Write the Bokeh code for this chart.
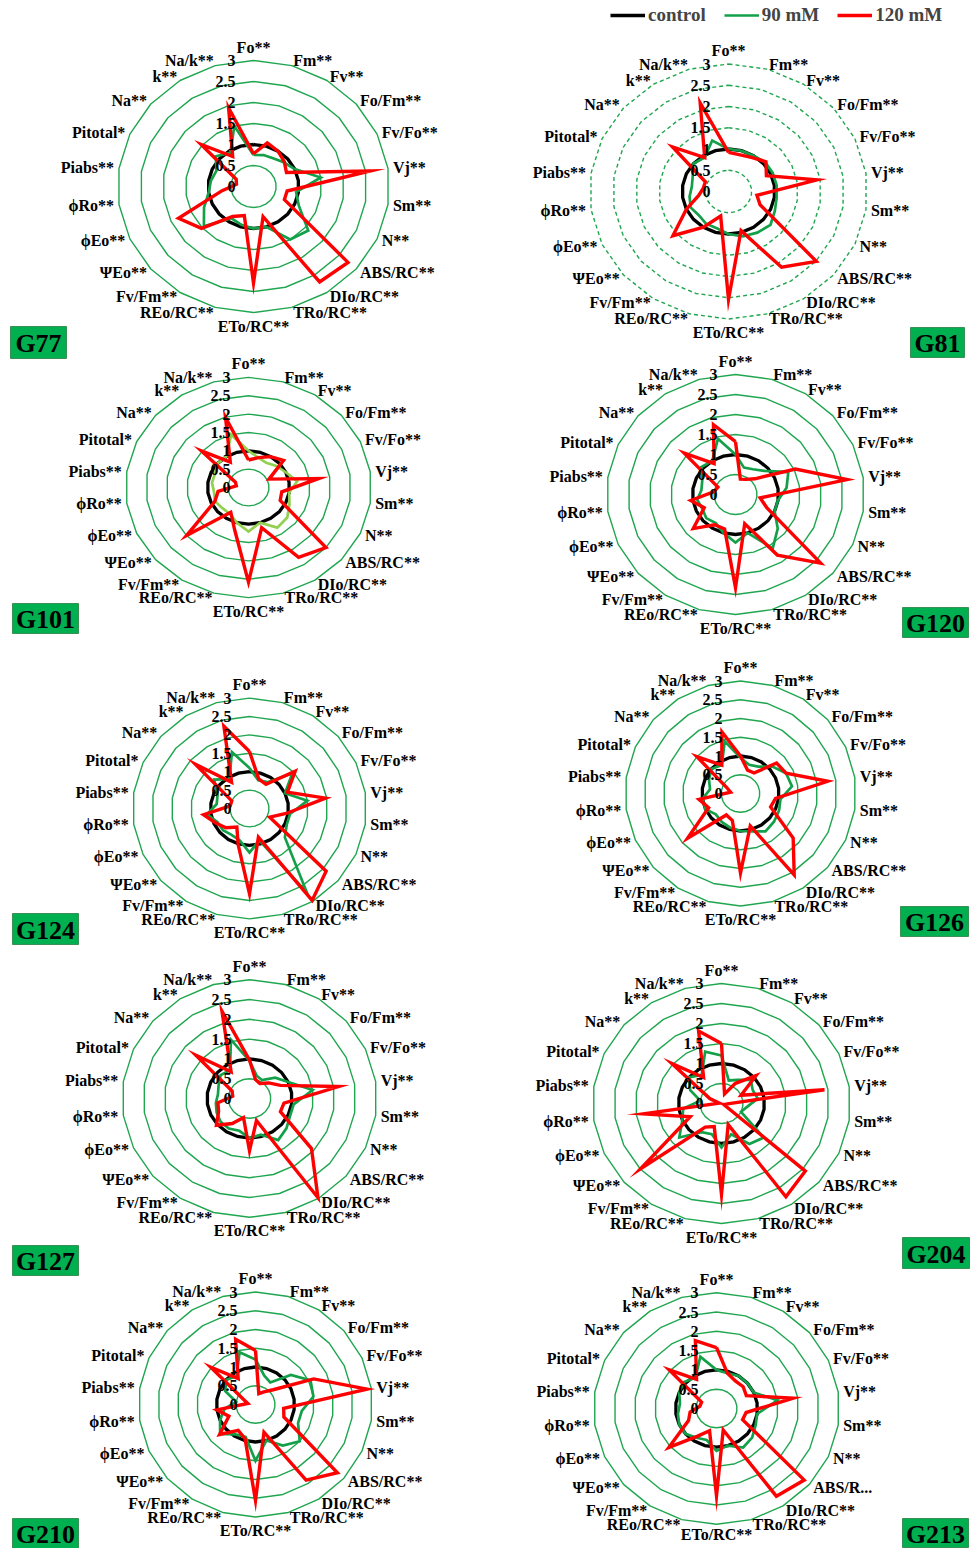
import math

from bokeh.core.properties import value
from bokeh.embed import file_html
from bokeh.models import ColumnDataSource, Legend, LegendItem, Range1d
from bokeh.plotting import figure
from bokeh.resources import INLINE

# ---- parameters (clockwise from the top) ----
params = ["Fo**", "Fm**", "Fv**", "Fo/Fm**", "Fv/Fo**", "Vj**", "Sm**", "N**",
          "ABS/RC**", "DIo/RC**", "TRo/RC**", "ETo/RC**", "REo/RC**", "Fv/Fm**",
          "ΨEo**", "ϕEo**", "ϕRo**", "Piabs**", "Pitotal*", "Na**", "k**", "Na/k**"]

ticks = [0, 0.5, 1, 1.5, 2, 2.5, 3]
tick_labels = ["0", "0.5", "1", "1.5", "2", "2.5", "3"]
series_names = ["control", "90 mM", "120 mM"]

# ---- values relative to control ----
control = [1.0, 1.0, 1.0, 1.0, 1.0, 1.0, 1.0, 1.0, 1.0, 1.0, 1.0,
           1.0, 1.0, 1.0, 1.0, 1.0, 1.0, 1.0, 1.0, 1.0, 1.0, 1.0]

g77_90 = [0.75, 0.78, 0.8, 0.88, 1.0, 1.5, 0.95, 1.1, 1.6, 1.5, 1.0,
          1.0, 0.95, 0.9, 1.45, 1.2, 1.0, 0.95, 0.9, 1.1, 0.95, 1.5]
g77_120 = [0.78, 1.08, 1.0, 0.9, 0.8, 2.6, 0.75, 0.75, 2.76, 2.7, 0.75,
           2.3, 0.72, 0.85, 1.52, 1.82, 0.7, 0.38, 0.42, 1.53, 0.85, 1.95]

g81_90 = [1.0, 1.0, 1.0, 1.05, 1.05, 1.05, 1.05, 1.1, 1.2, 1.15, 1.1,
          1.0, 0.9, 0.9, 0.85, 0.9, 0.85, 0.8, 0.85, 1.0, 0.95, 1.25]
g81_120 = [0.92, 0.9, 0.95, 1.07, 0.9, 1.93, 0.62, 0.75, 2.51, 2.12, 0.96,
           2.54, 0.6, 1.0, 1.59, 1.0, 0.65, 0.55, 0.55, 1.6, 0.95, 2.17]

g101_90 = [1.0, 0.85, 0.8, 0.9, 1.0, 1.2, 1.0, 1.1, 1.25, 1.3, 1.0,
           1.2, 1.0, 0.85, 0.85, 0.9, 0.85, 0.9, 0.9, 1.0, 1.0, 1.5]
g101_120 = [0.75, 0.85, 1.0, 1.13, 0.55, 1.73, 0.82, 0.85, 2.5, 2.26, 1.14,
            2.58, 1.2, 0.8, 2.0, 0.9, 0.75, 0.3, 0.35, 1.52, 0.82, 1.99]

g120_90 = [1.0, 0.7, 0.75, 0.9, 1.35, 1.2, 1.0, 1.0, 1.3, 1.6, 1.0,
           1.2, 1.0, 0.85, 0.9, 0.85, 0.9, 0.8, 0.85, 1.05, 1.0, 1.45]
g120_120 = [1.32, 0.4, 0.45, 0.6, 1.53, 2.62, 0.58, 0.8, 2.62, 1.8, 0.76,
            2.33, 0.9, 0.9, 1.3, 0.8, 1.05, 0.5, 0.45, 1.58, 0.92, 1.82]

g124_90 = [1.1, 0.8, 0.85, 1.45, 1.0, 1.5, 1.05, 1.05, 1.2, 2.73, 0.9,
           1.2, 0.9, 0.85, 0.9, 0.9, 1.1, 0.85, 0.9, 1.2, 0.95, 1.6]
g124_120 = [1.55, 0.84, 0.78, 1.55, 1.07, 1.97, 0.95, 0.57, 2.6, 2.97, 0.81,
            2.32, 1.03, 0.6, 0.8, 0.95, 1.19, 0.5, 0.5, 1.84, 0.85, 2.33]

g126_90 = [0.95, 0.8, 0.85, 1.1, 1.3, 1.35, 1.05, 1.1, 1.15, 1.2, 1.05,
           1.0, 0.95, 0.9, 0.85, 1.0, 1.0, 0.8, 0.9, 1.0, 0.9, 1.45]
g126_120 = [1.0, 0.65, 0.65, 1.24, 1.3, 2.29, 0.92, 0.86, 1.81, 2.58, 0.9,
            2.12, 0.75, 0.68, 1.82, 0.91, 1.09, 0.26, 0.4, 1.5, 0.9, 1.71]

g127_90 = [0.95, 0.6, 0.55, 0.8, 1.0, 1.5, 1.05, 1.05, 1.15, 1.25, 0.95,
           1.0, 0.85, 0.9, 0.9, 0.85, 0.8, 0.75, 0.8, 0.9, 0.85, 1.55]
g127_120 = [0.97, 0.5, 0.45, 0.6, 0.8, 2.12, 0.82, 0.8, 1.93, 2.98, 0.58,
            1.32, 0.5, 0.75, 1.03, 0.8, 0.75, 0.4, 0.45, 1.67, 0.8, 2.3]

g204_90 = [1.2, 0.6, 0.7, 0.9, 0.8, 0.85, 0.6, 0.5, 1.3, 1.2, 0.8,
           1.1, 0.8, 0.85, 1.3, 1.0, 0.9, 0.5, 0.8, 1.0, 0.85, 1.35]
g204_120 = [1.5, 0.25, 0.6, 1.06, 0.5, 2.42, 0.1, 0.05, 2.58, 2.77, 0.55,
            2.27, 0.6, 0.7, 2.49, 0.8, 1.83, 0.05, 0.3, 1.53, 0.77, 1.89]

g210_90 = [1.2, 0.8, 0.7, 1.2, 1.55, 1.5, 1.2, 1.2, 1.5, 1.3, 1.0,
           1.5, 0.9, 0.95, 1.2, 1.0, 0.8, 0.5, 0.85, 1.0, 0.9, 1.45]
g210_120 = [1.44, 0.3, 0.4, 0.6, 1.64, 2.89, 0.73, 0.8, 2.78, 2.4, 0.77,
            2.56, 0.95, 0.82, 1.22, 0.75, 1.0, 0.2, 0.35, 1.52, 0.82, 1.81]

g213_90 = [1.0, 0.95, 1.0, 1.0, 1.0, 1.5, 1.0, 1.05, 1.15, 1.2, 1.0,
           1.1, 0.85, 0.9, 1.0, 1.0, 0.95, 0.9, 1.0, 1.05, 0.95, 1.4]
g213_120 = [1.58, 0.95, 0.85, 0.86, 0.8, 1.89, 0.73, 0.7, 2.83, 2.7, 0.58,
            2.26, 0.6, 0.85, 1.54, 0.75, 0.65, 0.41, 0.4, 1.53, 0.9, 1.83]

genotypes = ["G77", "G81", "G101", "G120", "G124", "G126", "G127", "G204", "G210", "G213"]
values_90 = [g77_90, g81_90, g101_90, g120_90, g124_90, g126_90, g127_90, g204_90, g210_90, g213_90]
values_120 = [g77_120, g81_120, g101_120, g120_120, g124_120, g126_120, g127_120,
              g204_120, g210_120, g213_120]

# ---- page layout: centre, pixels per unit (x, y), name box ----
W, H = 979, 1548
layout = {
    "G77":  dict(c=(253, 186), s=(45.3, 42.0), box=(10, 326, 66, 358)),
    "G81":  dict(c=(728, 191), s=(46.3, 42.5), box=(910, 327, 964, 357), dashed=True),
    "G101": dict(c=(248, 487), s=(41.0, 36.7), box=(12, 603, 78, 633), green="#92d050"),
    "G120": dict(c=(735, 494), s=(43.0, 40.0), box=(902, 607, 968, 637)),
    "G124": dict(c=(249, 808), s=(39.0, 36.8), box=(12, 913, 78, 944)),
    "G126": dict(c=(740, 793), s=(38.5, 37.5), box=(900, 906, 968, 936)),
    "G127": dict(c=(249, 1098), s=(42.5, 39.6), box=(12, 1245, 78, 1275)),
    "G204": dict(c=(721, 1103), s=(43.0, 40.0), box=(902, 1237, 969, 1268)),
    "G210": dict(c=(255, 1404), s=(39.0, 37.5), box=(12, 1518, 78, 1548)),
    "G213": dict(c=(716, 1408), s=(41.0, 38.6), box=(902, 1518, 968, 1547),
                 rename={"ABS/RC**": "ABS/R..."}, pad_bottom=2),
}

FONT = value("Liberation Serif")
RING = "#1fa64f"
GREEN = "#13a049"
RED = "#ff0000"
BOX = "#00b050"

n = len(params)
ang = [2 * math.pi * k / n for k in range(n)]

p = figure(width=W, height=H, x_range=Range1d(0, W), y_range=Range1d(H, 0),
           output_backend="svg", toolbar_location=None, min_border=0,
           background_fill_color="white", border_fill_color="white")
p.axis.visible = False
p.grid.visible = False
p.outline_line_color = None


def polygon(vals, cx, cy, sx, sy):
    xs = [cx + v * sx * math.sin(a) for v, a in zip(vals, ang)]
    ys = [cy - v * sy * math.cos(a) for v, a in zip(vals, ang)]
    return xs + xs[:1], ys + ys[:1]


legend_renderers = []
for name, v90, v120 in zip(genotypes, values_90, values_120):
    cfg = layout[name]
    cx, cy = cfg["c"]
    sx, sy = cfg["s"]

    # grid rings at every tick except the centre
    ring_x, ring_y = [], []
    for t in ticks[1:]:
        xs, ys = polygon([t] * n, cx, cy, sx, sy)
        ring_x.append(xs)
        ring_y.append(ys)
    p.multi_line(ring_x, ring_y, line_color=RING, line_width=1.4,
                 line_dash="4 3" if cfg.get("dashed") else "solid")

    rs = []
    for vals, col, lw in ((control, "black", 3.3),
                          (v90, cfg.get("green", GREEN), 2.7),
                          (v120, RED, 3.4)):
        xs, ys = polygon(vals, cx, cy, sx, sy)
        rs.append(p.line(xs, ys, line_color=col, line_width=lw, line_join="miter"))
    if not legend_renderers:
        legend_renderers = rs

    # radial tick labels along the first spoke
    p.text(x=[cx - 18] * len(ticks), y=[cy - t * sy for t in ticks], text=tick_labels,
           text_font=FONT, text_font_style="bold", text_font_size="16px",
           text_align="right", text_baseline="middle", text_color="black")

    # parameter labels around the outside
    pad = 5
    rename = cfg.get("rename", {})
    lx, ly, lt, la, lb = [], [], [], [], []
    for k, a in enumerate(ang):
        s, c = math.sin(a), math.cos(a)
        kp = cfg.get("pad_bottom", pad) if c < -0.99 else pad
        lx.append(cx + (3 * sx + kp) * s)
        ly.append(cy - (3 * sy + kp) * c)
        lt.append(rename.get(params[k], params[k]))
        la.append("left" if s > 0.05 else ("right" if s < -0.05 else "center"))
        lb.append("bottom" if c > 0.99 else ("top" if c < -0.99 else "middle"))
    src = ColumnDataSource(dict(x=lx, y=ly, text=lt, align=la, base=lb))
    p.text(x="x", y="y", text="text", source=src, text_align="align", text_baseline="base",
           text_font=FONT, text_font_style="bold", text_font_size="16px", text_color="black")

    # genotype name box
    x0, y0, x1, y1 = cfg["box"]
    p.quad(left=[x0], right=[x1], top=[y0], bottom=[y1], fill_color=BOX,
           line_color="#3a8f55", line_width=1)
    p.text(x=[(x0 + x1) / 2], y=[(y0 + y1) / 2 + 1], text=[name], text_font=FONT,
           text_font_style="bold", text_font_size="26px", text_align="center",
           text_baseline="middle", text_color="black")

legend = Legend(items=[LegendItem(label=lab, renderers=[r])
                       for lab, r in zip(series_names, legend_renderers)],
                orientation="horizontal", location=(610, H - 26),
                glyph_width=35, glyph_height=20, label_standoff=3, spacing=18,
                padding=0, margin=0, border_line_color=None, background_fill_alpha=0,
                label_text_font="Liberation Serif", label_text_font_style="bold",
                label_text_font_size="19px")
p.add_layout(legend, "center")

open("out.html", "w").write(file_html(p, INLINE))
